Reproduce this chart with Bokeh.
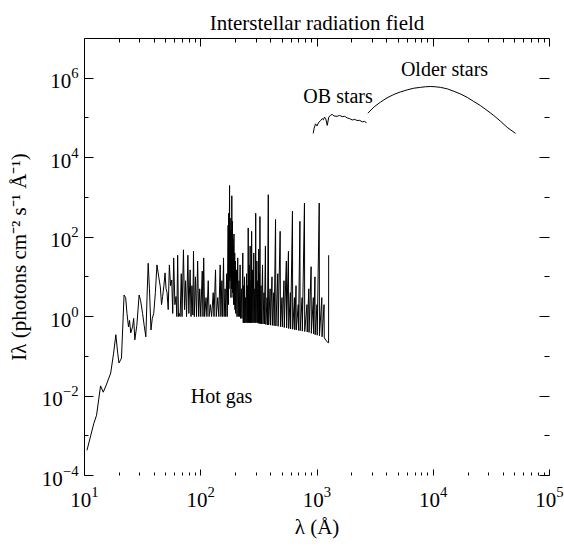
from bokeh.plotting import figure
from bokeh.models import LogAxis, FixedTicker, Range1d, Title
from bokeh.core.properties import value
from bokeh.embed import file_html
from bokeh.resources import INLINE

FONT = "Liberation Serif"

# ---- data ----
hot_wl = [10.5, 11.3, 12.0, 12.7, 13.75, 14.5, 15.5, 16.8, 17.8, 18.6, 19.3, 19.8, 20.8, 21.9, 22.6,
          23.2, 23.9, 24.4, 25.0, 25.9, 26.5, 27.1, 28.2, 29.5, 30.4, 31.6, 32.6, 33.7, 34.5, 35.3,
          36.2, 37.3, 38.3, 39.4, 40.7, 42.0, 43.5, 44.9, 46.0, 47.0, 48.2, 49.3, 50.3, 51.3, 52.5,
          53.7, 55.0, 56.3, 57.4, 58.5, 59.9, 61.3, 62.3, 63.3, 64.3, 65.4,
          66.5, 68, 69, 71, 72.5, 74, 75.5, 77.5, 79, 81, 82.5, 84, 85.5, 86.6, 88, 90, 92, 94, 96,
          98, 100, 103, 104.5, 106, 108, 111, 113, 116, 118, 121, 124, 128, 130, 134, 136, 140, 143,
          147, 149, 152, 154, 157, 159, 162, 164, 167, 169,
          172, 173, 174, 175, 176, 177, 178, 179, 180, 181, 182, 183, 184, 185, 186, 187, 188, 189,
          190, 191, 192, 193, 194, 196, 197, 199, 200, 203, 205, 208, 210, 213, 215, 218, 220, 224,
          226, 230, 232, 234, 236, 238, 240, 243, 245, 248, 250, 253, 254, 256, 258, 261, 263, 266,
          268, 271, 272, 274, 276, 280, 282, 286, 288, 292, 294, 297, 299, 304, 306, 310, 312, 315,
          317, 320, 321, 323, 325, 330, 333, 340, 343, 350, 353, 360, 363, 372, 375, 381, 384, 395,
          398, 410, 413, 425, 428, 440, 443, 460, 463, 482, 485, 500, 503, 520, 523, 545, 548, 568,
          571, 590, 593, 615, 618, 640, 643, 660, 663, 690, 693, 713, 716, 745, 748, 780, 784, 820,
          824, 850, 854, 890, 894, 930, 934, 960, 964, 1000, 1004, 1045, 1050, 1100, 1105, 1150,
          1155, 1200, 1240, 1258, 1260]
hot_I = [4.3e-4, 1.0e-3, 2.0e-3, 3.3e-3, 1.8e-2, 1.25e-2, 2.0e-2, 3.8e-2, 0.12, 0.35, 0.12, 0.068,
         0.09, 3.5, 3.0, 1.2, 0.55, 0.8, 0.39, 0.55, 0.9, 0.26, 0.6, 3.5, 2.5, 1.2, 0.6, 0.31, 3, 22,
         5, 0.46, 0.9, 1.2, 4, 20, 10, 5.6, 2, 3.2, 6, 12.6, 5, 4, 1.5, 20, 6, 8.3, 1.2, 30, 2, 3.2,
         1.0, 35, 1.0, 1.2,
         1.0, 12, 1.0, 48, 1.5, 8, 1.0, 35, 1.2, 15, 1.0, 6, 1.1, 44, 1.0, 10, 1.0, 25, 1.0,
         5, 1.0, 14, 1.0, 30, 1.0, 3, 1.0, 8, 1.0, 2, 1.0, 4, 1.0, 15, 1.0, 3, 1.0,
         20, 1.0, 8, 1.0, 30, 1.0, 5, 1.0, 12, 1.0,
         200, 2, 400, 5, 100, 2000, 8, 300, 10, 150, 3, 80, 5, 1100, 10, 250, 4, 90,
         3, 60, 2, 120, 2, 40, 1.5, 25, 1.2, 15, 1.0, 30, 1.0, 8, 1.0, 20, 0.9, 5,
         0.9, 40, 0.7, 6, 0.7, 10, 0.7, 3, 0.7, 12, 0.7, 6, 0.7, 170, 0.7, 20, 0.7, 60,
         0.7, 8, 0.7, 140, 0.7, 15, 0.7, 40, 0.7, 5, 0.7, 400, 0.7, 25, 0.7, 8, 0.68, 50,
         0.68, 12, 0.68, 330, 0.66, 6, 0.66, 20, 0.65, 4, 0.65, 60, 0.63, 3, 0.62, 1170, 0.62, 5,
         0.61, 10, 0.6, 4, 0.59, 280, 0.58, 12, 0.57, 140, 0.56, 3, 0.55, 8, 0.53, 25, 0.52, 44,
         0.5, 4, 0.49, 450, 0.48, 3, 0.47, 6, 0.46, 2, 0.45, 250, 0.44, 3, 0.43, 720, 0.42, 2,
         0.41, 5, 0.4, 18, 0.38, 3, 0.37, 10, 0.35, 2, 0.34, 720, 0.33, 3, 0.31, 2,
         0.29, 0.25, 0.22, 0.22, 35]

ob_wl = [927, 945, 971, 1000, 1036, 1070, 1109, 1135, 1161, 1190, 1225, 1263, 1300, 1351, 1400,
         1492, 1560, 1648, 1730, 1820, 1910, 2010, 2110, 2218, 2330, 2450, 2560, 2667]
ob_I = [4.1e4, 5.5e4, 7.1e4, 6.3e4, 7.8e4, 8.5e4, 9.6e4, 9.0e4, 1.05e5, 9.5e4, 6.5e4, 1.05e5,
        1.15e5, 1.23e5, 1.12e5, 1.1e5, 1.16e5, 1.08e5, 1.1e5, 1.0e5, 9.6e4, 8.9e4, 9.2e4, 8.6e4,
        8.7e4, 8.0e4, 8.2e4, 7.6e4]

old_wl = [2735, 3100, 3515, 4000, 4580, 5200, 5970, 6800, 7770, 8600, 9460, 10400, 11530, 13200,
          15020, 17200, 19590, 22300, 25480, 29000, 33200, 38000, 43250, 51000]
old_I = [1.32e5, 1.9e5, 2.5e5, 3.2e5, 3.9e5, 4.5e5, 5.1e5, 5.6e5, 5.9e5, 6.1e5, 6.2e5, 6.1e5,
         5.9e5, 5.4e5, 4.7e5, 4.0e5, 3.3e5, 2.6e5, 2.05e5, 1.55e5, 1.15e5, 8.2e4, 5.8e4, 4.1e4]

note_text = ["Hot gas", "OB stars", "Older stars"]
note_wl = [151, 1518, 12500]
note_I = [9.8e-3, 3.5e5, 1.66e6]

x_major = [1e1, 1e2, 1e3, 1e4, 1e5]
x_minor = [k * 10.0 ** d for d in range(1, 5) for k in range(2, 10)]
x_labels = ["10¹", "10²", "10³", "10⁴", "10⁵"]
y_major = [1e-4, 1e-2, 1e0, 1e2, 1e4, 1e6]
y_minor = [1e-3, 1e-1, 1e1, 1e3, 1e5]
y_labels = ["10⁻⁴", "10⁻²", "10⁰", "10²", "10⁴", "10⁶"]

title_text = "Interstellar radiation field"
x_title = "λ (Å)"
y_title = "Iλ (photons cm⁻² s⁻¹ Å⁻¹)"

p = figure(width=564, height=548, x_axis_type="log", y_axis_type="log",
           x_range=Range1d(10, 1e5), y_range=Range1d(1e-4, 1e7),
           output_backend="svg", toolbar_location=None,
           min_border_left=84, min_border_right=15, min_border_top=38, min_border_bottom=73)
p.grid.visible = False
p.outline_line_color = None
p.background_fill_color = "white"
p.border_fill_color = "white"

p.title = Title(text=title_text, align="center", text_font=FONT, text_font_size="21px",
                text_font_style="normal", text_color="black", standoff=8)

xt = FixedTicker(ticks=x_major, minor_ticks=x_minor)
yt = FixedTicker(ticks=y_major, minor_ticks=y_minor)

bx = p.xaxis[0]
bx.ticker = xt
bx.major_label_overrides = {str(k): v for k, v in zip(x_major, x_labels)}
bx.axis_line_color = None
bx.major_tick_in = 6
bx.major_tick_out = 0
bx.minor_tick_in = 3
bx.minor_tick_out = 0
bx.major_label_standoff = 11
bx.major_label_text_font = FONT
bx.major_label_text_font_size = "21px"
bx.major_label_text_color = "black"
bx.axis_label = x_title
bx.axis_label_text_font = FONT
bx.axis_label_text_font_style = "normal"
bx.axis_label_text_font_size = "21px"
bx.axis_label_text_color = "black"
bx.axis_label_standoff = 5

ly = p.yaxis[0]
ly.ticker = yt
ly.major_label_overrides = {str(k): v for k, v in zip(y_major, y_labels)}
ly.axis_line_color = "black"
ly.major_tick_in = 9
ly.major_tick_out = 0
ly.minor_tick_in = 4
ly.minor_tick_out = 0
ly.major_label_standoff = 6
ly.major_label_text_font = FONT
ly.major_label_text_font_size = "21px"
ly.major_label_text_color = "black"
ly.axis_label = y_title
ly.axis_label_text_font = FONT
ly.axis_label_text_font_style = "normal"
ly.axis_label_text_font_size = "21px"
ly.axis_label_text_color = "black"
ly.axis_label_standoff = 8

top = LogAxis(ticker=xt, axis_line_color="black", major_tick_in=8, major_tick_out=0,
              minor_tick_in=4, minor_tick_out=0, major_label_text_font_size="2px",
              major_label_text_color=None, major_label_standoff=0)
p.add_layout(top, "above")
right = LogAxis(ticker=yt, axis_line_color=None, major_tick_in=10, major_tick_out=0,
                minor_tick_in=5, minor_tick_out=0, major_label_text_font_size="2px",
                major_label_text_color=None, major_label_standoff=0)
p.add_layout(right, "right")

p.line(hot_wl, hot_I, line_color="black", line_width=1)
p.line(ob_wl, ob_I, line_color="black", line_width=1)
p.line(old_wl, old_I, line_color="black", line_width=1)

p.text(x=note_wl, y=note_I, text=note_text, text_font=value(FONT), text_font_size="20px",
       text_align="center", text_baseline="alphabetic", text_color="black")

open("out.html", "w").write(file_html(p, INLINE))
